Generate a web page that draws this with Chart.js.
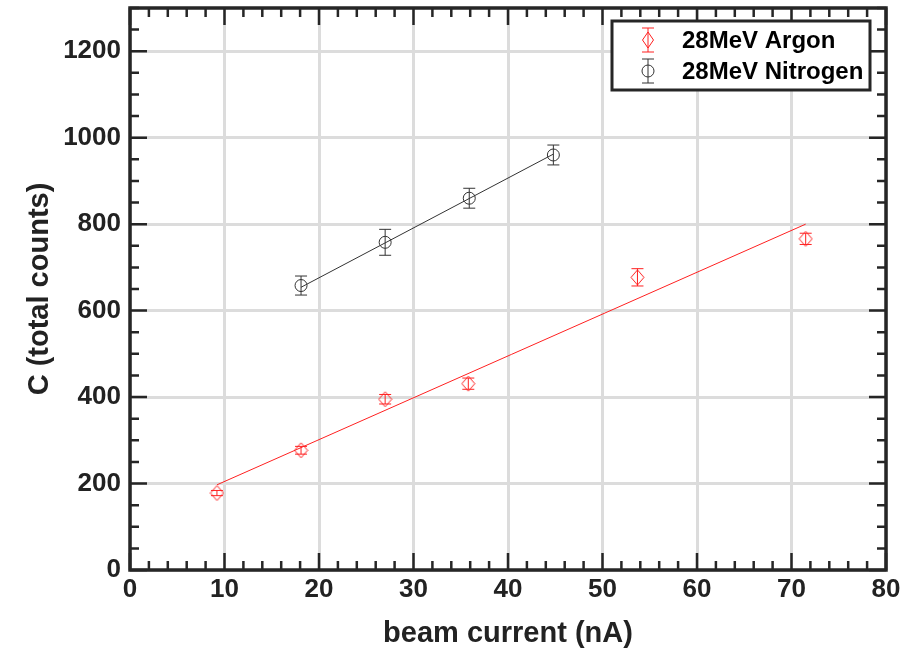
<!DOCTYPE html>
<html>
<head>
<meta charset="utf-8">
<script src="https://cdn.jsdelivr.net/npm/chart.js@4.4.1/dist/chart.umd.min.js"></script>
<style>
    html, body { margin: 0; padding: 0; background: #fff; }
    #chart { display: block; }
</style>
</head>
<body>
<canvas id="chart" width="907" height="651"></canvas>
<script>
// Dados
const argonX = [9.2, 18.1, 27.0, 35.8, 53.7, 71.5];
const argonY = [178, 277, 395, 431, 677, 766];
const argonErr = [6, 9, 11, 13, 20, 13];

const nitrogenX = [18.1, 27.0, 35.9, 44.8];
const nitrogenY = [658, 758, 860, 960];
const nitrogenErr = [22, 30, 23, 23];

// Retas ajustadas (extremos)
const argonFitX = [9.2, 71.5];
const argonFitY = [197, 800];
const nitrogenFitX = [18.1, 44.8];
const nitrogenFitY = [654, 962];

const xTicks = [0, 10, 20, 30, 40, 50, 60, 70, 80];
const yTicks = [0, 200, 400, 600, 800, 1000, 1200];
const xMinorStep = 2;
const yMinorStep = 50;

const seriesLabels = ['28MeV Argon', '28MeV Nitrogen'];
const RED = '#ff2020';
const DARK = '#262626';
const FONT = "'Liberation Sans', Arial, sans-serif";

function toPoints(xs, ys) {
    return xs.map(function(x, i) { return { x: x, y: ys[i] }; });
}

// Marcador losango (um pouco mais alto que largo)
function makeDiamond(color) {
    const c = document.createElement('canvas');
    c.width = 15;
    c.height = 17;
    const g = c.getContext('2d');
    g.strokeStyle = color;
    g.lineWidth = 1;
    g.beginPath();
    g.moveTo(7.5, 1);
    g.lineTo(14, 8.5);
    g.lineTo(7.5, 16);
    g.lineTo(1, 8.5);
    g.closePath();
    g.stroke();
    return c;
}
const diamondImg = makeDiamond(RED);

// Barras de erro
const errorBarsPlugin = {
    id: 'errorBars',
    afterDatasetsDraw(chart) {
        const ctx = chart.ctx;
        const xs = chart.scales.x, ys = chart.scales.y;
        const sets = [
            { x: argonX, y: argonY, e: argonErr, color: RED },
            { x: nitrogenX, y: nitrogenY, e: nitrogenErr, color: '#333' }
        ];
        ctx.save();
        ctx.lineWidth = 1;
        sets.forEach(function(s) {
            ctx.strokeStyle = s.color;
            s.x.forEach(function(xv, i) {
                const px = xs.getPixelForValue(xv);
                const top = ys.getPixelForValue(s.y[i] + s.e[i]);
                const bot = ys.getPixelForValue(s.y[i] - s.e[i]);
                ctx.beginPath();
                ctx.moveTo(px, top); ctx.lineTo(px, bot);
                ctx.moveTo(px - 6, top); ctx.lineTo(px + 6, top);
                ctx.moveTo(px - 6, bot); ctx.lineTo(px + 6, bot);
                ctx.stroke();
            });
        });
        ctx.restore();
    }
};

// Moldura com marcas para dentro, nos quatro lados
const framePlugin = {
    id: 'frame',
    afterDraw(chart) {
        const ctx = chart.ctx;
        const a = chart.chartArea;
        const xs = chart.scales.x, ys = chart.scales.y;
        ctx.save();
        ctx.strokeStyle = DARK;
        ctx.lineWidth = 2.5;
        ctx.beginPath();
        for (let v = xs.min; v <= xs.max + 1e-9; v += xMinorStep) {
            const px = xs.getPixelForValue(v);
            const len = xTicks.includes(v) ? 17 : 9;
            ctx.moveTo(px, a.bottom); ctx.lineTo(px, a.bottom - len);
            ctx.moveTo(px, a.top); ctx.lineTo(px, a.top + len);
        }
        for (let v = ys.min; v <= ys.max + 1e-9; v += yMinorStep) {
            const py = ys.getPixelForValue(v);
            const len = yTicks.includes(v) ? 17 : 9;
            ctx.moveTo(a.left, py); ctx.lineTo(a.left + len, py);
            ctx.moveTo(a.right, py); ctx.lineTo(a.right - len, py);
        }
        ctx.stroke();
        ctx.lineWidth = 3.5;
        ctx.strokeRect(a.left, a.top, a.right - a.left, a.bottom - a.top);

        // Legenda
        const lx = 612, ly = 21, lw = 258, lh = 69;
        ctx.fillStyle = '#fff';
        ctx.fillRect(lx, ly, lw, lh);
        ctx.lineWidth = 3;
        ctx.strokeStyle = DARK;
        ctx.strokeRect(lx, ly, lw, lh);

        const mx = 648;
        const rows = [40, 71];
        ctx.lineWidth = 1;
        // entrada Argon
        ctx.strokeStyle = RED;
        ctx.beginPath();
        ctx.moveTo(mx, rows[0] - 12); ctx.lineTo(mx, rows[0] + 12);
        ctx.moveTo(mx - 6, rows[0] - 12); ctx.lineTo(mx + 6, rows[0] - 12);
        ctx.moveTo(mx - 6, rows[0] + 12); ctx.lineTo(mx + 6, rows[0] + 12);
        ctx.stroke();
        ctx.beginPath();
        ctx.moveTo(mx, rows[0] - 8); ctx.lineTo(mx + 5.5, rows[0]);
        ctx.lineTo(mx, rows[0] + 8); ctx.lineTo(mx - 5.5, rows[0]);
        ctx.closePath();
        ctx.stroke();
        // entrada Nitrogen
        ctx.strokeStyle = '#333';
        ctx.beginPath();
        ctx.moveTo(mx, rows[1] - 12); ctx.lineTo(mx, rows[1] + 12);
        ctx.moveTo(mx - 6, rows[1] - 12); ctx.lineTo(mx + 6, rows[1] - 12);
        ctx.moveTo(mx - 6, rows[1] + 12); ctx.lineTo(mx + 6, rows[1] + 12);
        ctx.stroke();
        ctx.beginPath();
        ctx.arc(mx, rows[1], 6, 0, Math.PI * 2);
        ctx.stroke();

        ctx.fillStyle = '#000';
        ctx.font = 'bold 24px ' + FONT;
        ctx.textBaseline = 'middle';
        ctx.textAlign = 'left';
        ctx.fillText(seriesLabels[0], 682, rows[0] + 1);
        ctx.fillText(seriesLabels[1], 682, rows[1] + 1);
        ctx.restore();
    }
};

const ctx = document.getElementById('chart').getContext('2d');
new Chart(ctx, {
    type: 'scatter',
    data: {
        datasets: [
            {
                label: 'Argon fit',
                type: 'line',
                data: toPoints(argonFitX, argonFitY),
                borderColor: RED,
                borderWidth: 1,
                pointRadius: 0,
                fill: false
            },
            {
                label: 'Nitrogen fit',
                type: 'line',
                data: toPoints(nitrogenFitX, nitrogenFitY),
                borderColor: '#333',
                borderWidth: 1,
                pointRadius: 0,
                fill: false
            },
            {
                label: seriesLabels[0],
                data: toPoints(argonX, argonY),
                pointStyle: diamondImg,
                pointRadius: 7
            },
            {
                label: seriesLabels[1],
                data: toPoints(nitrogenX, nitrogenY),
                pointStyle: 'circle',
                pointRadius: 6,
                borderColor: '#333',
                borderWidth: 1,
                backgroundColor: 'rgba(0,0,0,0)'
            }
        ]
    },
    options: {
        responsive: false,
        animation: false,
        devicePixelRatio: 1,
        layout: { padding: { top: 5, right: 21, left: 0, bottom: 0 } },
        plugins: {
            legend: { display: false },
            tooltip: { enabled: false }
        },
        scales: {
            x: {
                type: 'linear',
                min: 0,
                max: 80,
                afterBuildTicks: function(scale) {
                    scale.ticks = xTicks.map(function(v) { return { value: v }; });
                },
                afterFit: function(scale) {
                    scale.height = 81;
                    scale.paddingLeft = 0;
                    scale.paddingRight = 0;
                },
                ticks: {
                    color: '#222',
                    padding: 4,
                    maxRotation: 0,
                    callback: function(v) { return String(v); },
                    font: { family: FONT, size: 26, weight: 'bold' }
                },
                grid: { color: '#dcdcdc', lineWidth: 3, drawTicks: false },
                border: { display: false },
                title: {
                    display: true,
                    text: 'beam current (nA)',
                    color: '#222',
                    padding: { top: 0, bottom: 0 },
                    font: { family: FONT, size: 29, weight: 'bold' }
                }
            },
            y: {
                type: 'linear',
                min: 0,
                max: 1300,
                afterBuildTicks: function(scale) {
                    scale.ticks = yTicks.map(function(v) { return { value: v }; });
                },
                afterFit: function(scale) {
                    scale.width = 130;
                    scale.paddingTop = 0;
                    scale.paddingBottom = 0;
                },
                ticks: {
                    color: '#222',
                    padding: 9,
                    callback: function(v) { return String(v); },
                    font: { family: FONT, size: 26, weight: 'bold' }
                },
                grid: { color: '#dcdcdc', lineWidth: 3, drawTicks: false },
                border: { display: false },
                title: {
                    display: true,
                    text: 'C (total counts)',
                    color: '#222',
                    padding: { top: 23, bottom: 0 },
                    font: { family: FONT, size: 29, weight: 'bold' }
                }
            }
        }
    },
    plugins: [errorBarsPlugin, framePlugin]
});
</script>
</body>
</html>
